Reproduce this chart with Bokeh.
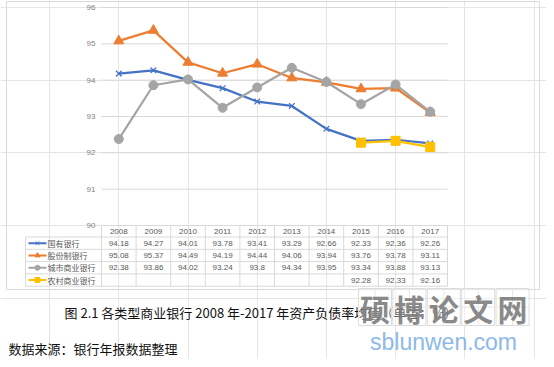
from bokeh.plotting import figure
from bokeh.models import Range1d
from bokeh.core.properties import value
from bokeh.embed import file_html
from bokeh.resources import INLINE

# ---------------- data ----------------
years = ["2008", "2009", "2010", "2011", "2012", "2013", "2014", "2015", "2016", "2017"]
state_owned = [94.18, 94.27, 94.01, 93.78, 93.41, 93.29, 92.66, 92.33, 92.36, 92.26]
joint_stock = [95.08, 95.37, 94.49, 94.19, 94.44, 94.06, 93.94, 93.76, 93.78, 93.11]
city_comm = [92.38, 93.86, 94.02, 93.24, 93.8, 94.34, 93.95, 93.34, 93.88, 93.13]
rural_comm = [None, None, None, None, None, None, None, 92.28, 92.33, 92.16]
series_names = ["国有银行", "股份制银行", "城市商业银行", "农村商业银行"]
y_ticks = [90, 91, 92, 93, 94, 95, 96]
caption = "图 2.1 各类型商业银行 2008 年-2017 年资产负债率均值（单位：%）"
source_note = "数据来源：银行年报数据整理"
wm_chars = ["硕", "博", "论", "文", "网"]
wm_url = "sblunwen.com"

series = [state_owned, joint_stock, city_comm, rural_comm]
colors = ["#4472C4", "#ED7D31", "#A5A5A5", "#FFC000"]
markers = ["x", "triangle", "circle", "square"]
msizes = [8, 10, 9, 9]

W, H = 546, 359
# pixel layout (page coordinates): plot area x 109..455, y 15 (96) .. 233 (90)
PX0, PX1 = 109.0, 455.0
PY96, PY90 = 15.0, 233.0
n = len(years)
ux = (PX1 - PX0) / n
uy = (PY90 - PY96) / 6.0
x_start = -0.5 - (PX0 - 8) / ux
x_end = (n - 0.5) + (554 - PX1) / ux
y_end = 96 + (PY96 - 8) / uy
y_start = 90 - (367 - PY90) / uy

p = figure(width=W, height=H, output_backend="svg", toolbar_location=None,
           x_range=Range1d(x_start, x_end), y_range=Range1d(y_start, y_end),
           x_axis_location=None, y_axis_location=None,
           min_border=0, min_border_left=0, min_border_right=0,
           min_border_top=0, min_border_bottom=0)
p.outline_line_color = None
p.background_fill_color = "white"
p.border_fill_color = "white"
p.extra_x_ranges = {"px": Range1d(8, 554)}
p.extra_y_ranges = {"px": Range1d(367, 8)}

# outer chart border
p.quad(left=[14], right=[547], top=[9], bottom=[297], fill_color=None,
       line_color="#D9D9D9", line_width=1, x_range_name="px", y_range_name="px")

# gridlines
p.segment(x0=[-0.5] * len(y_ticks), x1=[n - 0.5] * len(y_ticks), y0=y_ticks, y1=y_ticks,
          line_color="#D9D9D9", line_width=1)

# y tick labels
p.text(x=[103] * len(y_ticks), y=y_ticks, text=[str(t) for t in y_ticks],
       x_range_name="px", text_align="right", text_baseline="middle",
       text_font=value("Liberation Sans"), text_font_size="8px", text_color="#7F7F7F")

# series lines
xs = list(range(n))
for vals, c, m, s in zip(series, colors, markers, msizes):
    xx = [x for x, v in zip(xs, vals) if v is not None]
    yy = [v for v in vals if v is not None]
    p.line(xx, yy, line_color=c, line_width=2.25)
    if m == "x":
        p.scatter(xx, yy, marker=m, size=s, line_color=c, line_width=1.2)
    else:
        p.scatter(xx, yy, marker=m, size=s, fill_color=c, line_color=c)

# ---------------- data table ----------------
row_h = 12.3
top = PY90
rows_y = [top + 11.5 + row_h * k for k in range(5)]  # bottom lines of rows
header_c = (top + rows_y[0]) / 2
row_c = [(rows_y[k] + rows_y[k + 1]) / 2 for k in range(4)]
col_edges = [PX0 + ux * k for k in range(n + 1)]
tcol = "#D9D9D9"
# horizontal lines
p.segment(x0=[33] * 5, x1=[PX1] * 5, y0=rows_y, y1=rows_y, line_color=tcol,
          x_range_name="px", y_range_name="px")
# vertical lines
p.segment(x0=col_edges, x1=col_edges, y0=[top] * len(col_edges), y1=[rows_y[-1]] * len(col_edges),
          line_color=tcol, x_range_name="px", y_range_name="px")
p.segment(x0=[33], x1=[33], y0=[rows_y[0]], y1=[rows_y[-1]], line_color=tcol,
          x_range_name="px", y_range_name="px")

# header years
p.text(x=xs, y=[header_c] * n, text=years, y_range_name="px",
       text_align="center", text_baseline="middle",
       text_font=value("Liberation Sans"), text_font_size="8px", text_color="#595959")
# values
for k, vals in enumerate(series):
    xx = [x for x, v in zip(xs, vals) if v is not None]
    tt = [f"{v:g}" for v in vals if v is not None]
    p.text(x=xx, y=[row_c[k]] * len(xx), text=tt, y_range_name="px",
           text_align="center", text_baseline="middle",
           text_font=value("Liberation Sans"), text_font_size="8px", text_color="#595959")
# legend keys
for k, (c, m) in enumerate(zip(colors, markers)):
    p.segment(x0=[36], x1=[54], y0=[row_c[k]], y1=[row_c[k]], line_color=c, line_width=2,
              x_range_name="px", y_range_name="px")
    if m == "x":
        p.scatter([45], [row_c[k]], marker=m, size=5, line_color=c, line_width=1,
                  x_range_name="px", y_range_name="px")
    else:
        p.scatter([45], [row_c[k]], marker=m, size=5, fill_color=c, line_color=c,
                  x_range_name="px", y_range_name="px")
p.text(x=[55] * 4, y=row_c, text=series_names, x_range_name="px", y_range_name="px",
       text_align="left", text_baseline="middle",
       text_font=value("Noto Sans CJK SC"), text_font_size="8px", text_color="#595959")

# ---------------- caption and note ----------------
p.text(x=[72], y=[320], text=[caption], x_range_name="px", y_range_name="px",
       text_align="left", text_baseline="middle",
       text_font=value("Noto Sans CJK SC"), text_font_size="13px", text_color="#111111")
p.text(x=[16], y=[356], text=[source_note], x_range_name="px", y_range_name="px",
       text_align="left", text_baseline="middle",
       text_font=value("Noto Sans CJK SC"), text_font_size="13px", text_color="#111111")

# ---------------- watermark ----------------
bx = [366 + 34.4 * k for k in range(5)]
p.quad(left=bx, right=[b + 33 for b in bx], top=[296] * 5, bottom=[333] * 5,
       fill_color="white", fill_alpha=0.35, line_color="#DDDDDD", line_width=1,
       x_range_name="px", y_range_name="px")
p.segment(x0=[b + 16.5 for b in bx], x1=[b + 16.5 for b in bx], y0=[296] * 5, y1=[333] * 5,
          line_color="#E6E6E6", x_range_name="px", y_range_name="px")
p.segment(x0=bx, x1=[b + 33 for b in bx], y0=[314.5] * 5, y1=[314.5] * 5,
          line_color="#E6E6E6", x_range_name="px", y_range_name="px")
p.text(x=[b + 16.5 for b in bx], y=[315] * 5, text=wm_chars, x_range_name="px", y_range_name="px",
       text_align="center", text_baseline="middle",
       text_font=value("Noto Sans CJK SC"), text_font_style="bold", text_font_size="30px",
       text_color="#7A7A7A", text_alpha=0.9)
p.text(x=[451], y=[349], text=[wm_url], x_range_name="px", y_range_name="px",
       text_align="center", text_baseline="middle",
       text_font=value("Liberation Sans"), text_font_size="23px", text_color="#8CB9E8")

open("out.html", "w").write(file_html(p, INLINE))
